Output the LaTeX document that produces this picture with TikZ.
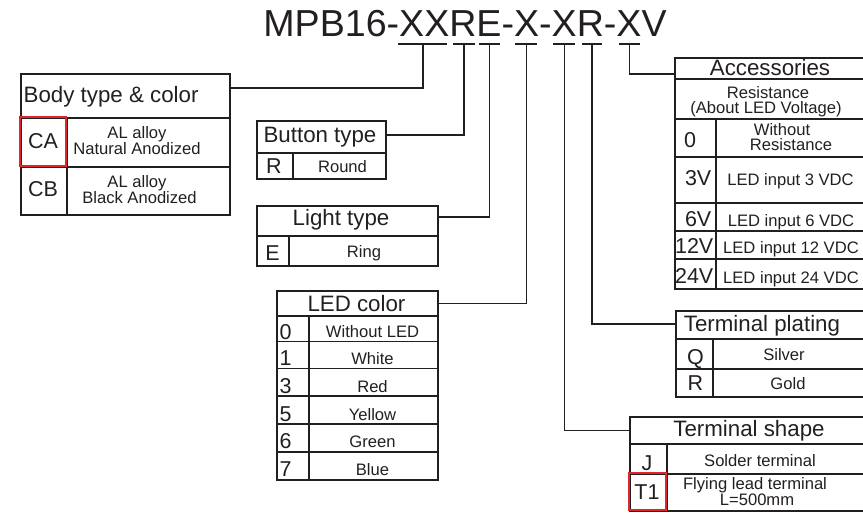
\documentclass[tikz,border=0pt]{standalone}
\usepackage{fontspec}
\setmainfont{Liberation Sans}
\definecolor{ink}{HTML}{231F20}
\definecolor{redbox}{HTML}{E0262B}
\begin{document}
\begin{tikzpicture}[x=1pt,y=-1pt,
  cell/.style={draw=ink, line width=1.5pt, inner sep=0pt, anchor=north west},
  conn/.style={draw=ink, line width=1.5pt},
  uline/.style={draw=ink, line width=1.5pt},
  hd/.style={text=ink, inner sep=0pt, anchor=base, font=\fontsize{22.3}{24}\selectfont},
  cd/.style={text=ink, inner sep=0pt, anchor=base, font=\fontsize{21.5}{24}\selectfont},
  ds/.style={text=ink, inner sep=0pt, anchor=base, font=\fontsize{16.6}{18}\selectfont},
  ttl/.style={text=ink, inner sep=0pt, anchor=base, font=\fontsize{37.6}{40}\selectfont},
  hl/.style={draw=redbox, line width=2pt}]
\useasboundingbox (0,0) rectangle (863,512);

% ---------- title and underlines ----------
\node[ttl] (title) at (465,36) {MPB16-XXRE-X-XR-XV};
\draw[uline] (398,44) -- (447,44);
\draw[uline] (453,44) -- (475,44);
\draw[uline] (479,44) -- (500,44);
\draw[uline] (515,44) -- (537,44);
\draw[uline] (553,44) -- (575,44);
\draw[uline] (582,44) -- (602,44);
\draw[uline] (619,44) -- (640,44);
\coordinate (u1) at (423,44);
\coordinate (u2) at (464,44);
\coordinate (u3) at (489.5,44);
\coordinate (u4) at (526.5,44);
\coordinate (u5) at (564.5,44);
\coordinate (u6) at (592,44);
\coordinate (u7) at (629.5,44);

% ---------- Body type & color ----------
\node[cell, minimum width=209pt, minimum height=44pt] (bodyH) at (20,73) {};
\node[cell, minimum width=46pt, minimum height=49pt] (bodyCA) at (20,117) {};
\node[cell, minimum width=163pt, minimum height=49pt] (bodyCAd) at (66,117) {};
\node[cell, minimum width=46pt, minimum height=48pt] (bodyCB) at (20,166) {};
\node[cell, minimum width=163pt, minimum height=48pt] (bodyCBd) at (66,166) {};
\node[hd, anchor=base west] (tBody) at (23.5,102) {Body type \& color};
\node[cd] (tCA) at (43,148.5) {CA};
\node[ds] (tCA1) at (137,138) {AL alloy};
\node[ds] (tCA2) at (137,154) {Natural Anodized};
\node[cd] (tCB) at (43,196.5) {CB};
\node[ds] (tCB1) at (137,187) {AL alloy};
\node[ds] (tCB2) at (139.5,203) {Black Anodized};
\draw[hl] (20,117) rectangle (66,166);

% ---------- Button type ----------
\node[cell, minimum width=129pt, minimum height=32pt] (btnH) at (256,120) {};
\node[cell, minimum width=36pt, minimum height=26pt] (btnR) at (256,152) {};
\node[cell, minimum width=93pt, minimum height=26pt] (btnRd) at (292,152) {};
\node[hd] (tBtn) at (320,142) {Button type};
\node[cd] (tR) at (274,173) {R};
\node[ds] (tRound) at (342.5,172) {Round};

% ---------- Light type ----------
\node[cell, minimum width=181pt, minimum height=30pt] (lightH) at (256,205) {};
\node[cell, minimum width=32pt, minimum height=30pt] (lightE) at (256,235) {};
\node[cell, minimum width=149pt, minimum height=30pt] (lightEd) at (288,235) {};
\node[hd] (tLight) at (341,225) {Light type};
\node[cd] (tE) at (272.5,260.5) {E};
\node[ds] (tRing) at (364,257) {Ring};

% ---------- LED color ----------
\node[cell, minimum width=161pt, minimum height=25pt] (ledH) at (276,290) {};
\foreach \ya/\yb/\nm in {315/340.5/a,340.5/367.5/b,367.5/395/c,395/423/d,423/451/e,451/479/f}{
  \pgfmathsetmacro{\hh}{\yb-\ya}
  \node[cell, minimum width=32pt, minimum height=\hh pt] (ledC\nm) at (276,\ya) {};
  \node[cell, minimum width=129pt, minimum height=\hh pt] (ledD\nm) at (308,\ya) {};
}
\node[hd] (tLED) at (356.5,311.5) {LED color};
\node[cd, anchor=base west] (tL0) at (279.5,339) {0};
\node[cd, anchor=base west] (tL1) at (279.5,365.5) {1};
\node[cd, anchor=base west] (tL3) at (279.5,393) {3};
\node[cd, anchor=base west] (tL5) at (279.5,421) {5};
\node[cd, anchor=base west] (tL6) at (279.5,448.5) {6};
\node[cd, anchor=base west] (tL7) at (279.5,476.5) {7};
\node[ds] (dL0) at (372.5,337) {Without LED};
\node[ds] (dL1) at (372.5,364.5) {White};
\node[ds] (dL3) at (372.5,392) {Red};
\node[ds] (dL5) at (372.5,420) {Yellow};
\node[ds] (dL6) at (372.5,447.5) {Green};
\node[ds] (dL7) at (372.5,475) {Blue};

% ---------- Accessories ----------
\node[cell, minimum width=191pt, minimum height=21pt] (accH) at (674,57) {};
\node[cell, minimum width=191pt, minimum height=40pt] (accRes) at (674,78) {};
\foreach \ya/\yb/\nm in {118/156/a,156/202/b,202/230/c,230/258/d,258/288/e}{
  \pgfmathsetmacro{\hh}{\yb-\ya}
  \node[cell, minimum width=41pt, minimum height=\hh pt] (accC\nm) at (674,\ya) {};
  \node[cell, minimum width=150pt, minimum height=\hh pt] (accD\nm) at (715,\ya) {};
}
\node[hd] (tAcc) at (770,75) {Accessories};
\node[ds] (tRes1) at (768,98) {Resistance};
\node[ds] (tRes2) at (766,113) {(About LED Voltage)};
\node[cd] (tA0) at (690,147) {0};
\node[ds] (dA0a) at (782,135) {Without};
\node[ds] (dA0b) at (791,150) {Resistance};
\node[cd, anchor=base east] (tA3) at (711.5,185) {3V};
\node[ds] (dA3) at (790.5,185) {LED input 3 VDC};
\node[cd, anchor=base east] (tA6) at (711.5,226.5) {6V};
\node[ds] (dA6) at (791,226) {LED input 6 VDC};
\node[cd, anchor=base east] (tA12) at (713.5,253) {12V};
\node[ds] (dA12) at (791,253) {LED input 12 VDC};
\node[cd, anchor=base east] (tA24) at (713.5,283) {24V};
\node[ds] (dA24) at (791,283) {LED input 24 VDC};

% ---------- Terminal plating ----------
\node[cell, minimum width=190pt, minimum height=28pt] (tpH) at (675,310) {};
\node[cell, minimum width=37pt, minimum height=30pt] (tpQ) at (675,338) {};
\node[cell, minimum width=153pt, minimum height=30pt] (tpQd) at (712,338) {};
\node[cell, minimum width=37pt, minimum height=28pt] (tpR) at (675,368) {};
\node[cell, minimum width=153pt, minimum height=28pt] (tpRd) at (712,368) {};
\node[hd] (tTP) at (762,331) {Terminal plating};
\node[cd] (tQ) at (695.5,364) {Q};
\node[ds] (dQ) at (784,360) {Silver};
\node[cd] (tR2) at (695.5,390) {R};
\node[ds] (dR2) at (788,389) {Gold};

% ---------- Terminal shape ----------
\node[cell, minimum width=236pt, minimum height=27pt] (tsH) at (629,416) {};
\node[cell, minimum width=37pt, minimum height=30pt] (tsJ) at (629,443) {};
\node[cell, minimum width=199pt, minimum height=30pt] (tsJd) at (666,443) {};
\node[cell, minimum width=37pt, minimum height=37pt] (tsT) at (629,473) {};
\node[cell, minimum width=199pt, minimum height=37pt] (tsTd) at (666,473) {};
\node[hd] (tTS) at (749,436.5) {Terminal shape};
\node[cd] (tJ) at (647,470) {J};
\node[ds] (dJ) at (760,466) {Solder terminal};
\node[cd] (tT1) at (647,499) {T1};
\node[ds] (dT1a) at (755,489) {Flying lead terminal};
\node[ds] (dT1b) at (757,505) {L=500mm};
\draw[hl] (629,473) rectangle (666,510);

% ---------- connectors ----------
\draw[conn] ([yshift=8pt]bodyH.east) -| (u1);
\draw[conn] ([yshift=2pt]btnH.east) -| (u2);
\draw[conn] ([yshift=4pt]lightH.east) -| (u3);
\draw[conn] (ledH.east) -| (u4);
\draw[conn] (u5) |- (tsH.west);
\draw[conn] (u6) |- ([yshift=1pt]tpH.west);
\draw[conn] (u7) |- ([yshift=-5.5pt]accH.west);
\end{tikzpicture}
\end{document}
